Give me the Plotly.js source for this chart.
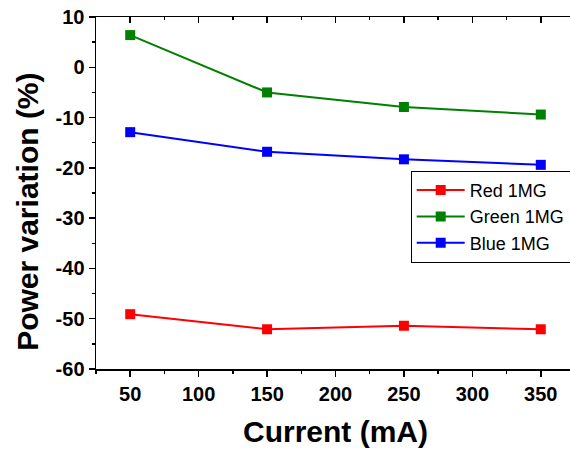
<!DOCTYPE html>
<html>
<head>
<meta charset="utf-8">
<script src="https://cdn.plot.ly/plotly-3.0.1.min.js"></script>
<style>
html,body{margin:0;padding:0;overflow:hidden;background:#fff;}
#chart{width:580px;height:454px;}
</style>
</head>
<body>
<div id="chart"></div>
<script>
const current = [50, 150, 250, 350];
const redValues = [-49.1, -52.1, -51.4, -52.1];
const greenValues = [6.4, -5.0, -7.9, -9.4];
const blueValues = [-12.9, -16.8, -18.3, -19.4];
const seriesNames = ["Red 1MG", "Green 1MG", "Blue 1MG"];
const xTicks = [50, 100, 150, 200, 250, 300, 350];
const yTicks = [10, 0, -10, -20, -30, -40, -50, -60];
const xTickText = xTicks.map(v => '<b>' + v + '</b>');
const yTickText = yTicks.map(v => '<b>' + String(v) + '</b>');
const xTitle = 'Current (mA)';
const yTitle = 'Power variation (%)';

function series(name, ys, color) {
  return {
    x: current, y: ys, name: name, type: 'scatter', mode: 'lines+markers',
    line: {color: color, width: 2},
    marker: {color: color, symbol: 'square', size: 10}
  };
}
const data = [
  series(seriesNames[0], redValues, '#ff0000'),
  series(seriesNames[1], greenValues, '#008000'),
  series(seriesNames[2], blueValues, '#0000ff'),
  {x: [], y: [], xaxis: 'x2', yaxis: 'y', showlegend: false, hoverinfo: 'skip', type: 'scatter'}
];
const FF = 'Liberation Sans, Arial, sans-serif';
const tickFont = {family: FF, size: 20, color: '#000'};
const layout = {
  width: 580, height: 454,
  margin: {l: 96, r: 5, t: 17, b: 85},
  paper_bgcolor: '#fff', plot_bgcolor: '#fff',
  font: {family: FF, color: '#000'},
  showlegend: true,
  legend: {x: 0.657, y: 0.563, xanchor: 'left', yanchor: 'top',
    bordercolor: '#000', borderwidth: 1, bgcolor: '#fff',
    font: {size: 18, family: FF, color: '#000'},
    tracegroupgap: 0, itemwidth: 48},
  xaxis: {
    range: [25, 375], tickvals: xTicks, ticktext: xTickText, ticks: 'outside', ticklen: 6, tickwidth: 1.5,
    tickcolor: '#000', showline: true, linecolor: '#000', linewidth: 1.5,
    showgrid: false, zeroline: false, tickfont: tickFont,
    minor: {dtick: 25, tick0: 25, ticks: 'outside', ticklen: 3, tickwidth: 1.5, tickcolor: '#000'},
    title: {text: '<b>' + xTitle + '</b>', font: {size: 30, family: FF, color: '#000'}, standoff: 17}
  },
  xaxis2: {
    overlaying: 'x', side: 'top', matches: 'x', range: [25, 375], tickvals: xTicks,
    ticks: 'inside', ticklen: 6, tickwidth: 1.5, tickcolor: '#000',
    showline: true, linecolor: '#000', linewidth: 1.5, showticklabels: false,
    showgrid: false, zeroline: false,
    minor: {dtick: 25, tick0: 25, ticks: 'inside', ticklen: 3, tickwidth: 1.5, tickcolor: '#000'}
  },
  yaxis: {
    range: [-60, 10], tickvals: yTicks, ticktext: yTickText, ticks: 'outside', ticklen: 6, tickwidth: 1.5,
    tickcolor: '#000', showline: true, linecolor: '#000', linewidth: 1.5,
    showgrid: false, zeroline: false, tickfont: tickFont,
    minor: {dtick: 5, tick0: 0, ticks: 'outside', ticklen: 3, tickwidth: 1.5, tickcolor: '#000'}
  },
  annotations: [{
    text: '<b>' + yTitle + '</b>', xref: 'paper', yref: 'paper', x: -0.143, y: 0.445,
    xanchor: 'center', yanchor: 'middle', textangle: -90, showarrow: false,
    font: {size: 30, family: FF, color: '#000'}
  }]
};
Plotly.newPlot('chart', data, layout, {displayModeBar: false, staticPlot: true});
</script>
</body>
</html>
